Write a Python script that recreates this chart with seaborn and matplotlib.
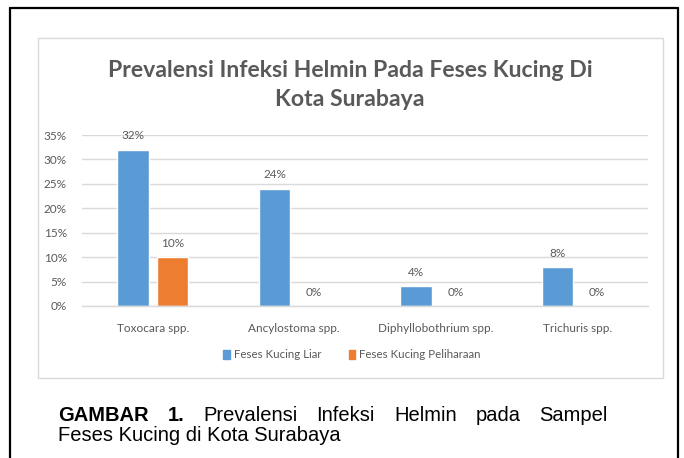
import matplotlib
matplotlib.use("Agg")
import matplotlib.pyplot as plt
from matplotlib.lines import Line2D
from matplotlib.patches import Rectangle
import seaborn as sns
import pandas as pd

# ---- data ----
categories = ["Toxocara spp.", "Ancylostoma spp.", "Diphyllobothrium spp.", "Trichuris spp."]
series_names = ["Feses Kucing Liar", "Feses Kucing Peliharaan"]
liar = [0.32, 0.24, 0.04, 0.08]
peliharaan = [0.10, 0.0, 0.0, 0.0]
y_ticks = [0.0, 0.05, 0.10, 0.15, 0.20, 0.25, 0.30, 0.35]
y_tick_labels = ["0%", "5%", "10%", "15%", "20%", "25%", "30%", "35%"]
title = "Prevalensi Infeksi Helmin Pada Feses Kucing Di\nKota Surabaya"
caption_line1_bold = ["GAMBAR", "1."]
caption_line1 = ["Prevalensi", "Infeksi", "Helmin", "pada", "Sampel"]
caption_line2 = "Feses Kucing di Kota Surabaya"

df = pd.DataFrame({
    "Parasit": categories * 2,
    "Prevalensi": liar + peliharaan,
    "Kelompok": [series_names[0]] * 4 + [series_names[1]] * 4,
})

BLUE = "#5B9BD5"
ORANGE = "#ED7D31"
GRID = "#D9D9D9"
TXT = "#595959"

sns.set_theme(style="white")
plt.rcParams["font.family"] = ["Lato", "DejaVu Sans"]

W, H = 684, 458
fig = plt.figure(figsize=(W / 100, H / 100), dpi=100)
fig.patch.set_facecolor("white")


def fx(px):
    return px / W


def fy(py):
    return 1 - py / H


ax = fig.add_axes([fx(82), fy(306), fx(648) - fx(82), fy(135) - fy(306)])
sns.barplot(data=df, x="Parasit", y="Prevalensi", hue="Kelompok",
            palette=[BLUE, ORANGE], saturation=1, width=0.56, gap=0.2,
            ax=ax, legend=False)

ax.set_ylim(0, 0.35)
ax.set_xlim(-0.5, len(categories) - 0.5)
ax.set_yticks(y_ticks)
ax.set_yticklabels(y_tick_labels)
ax.set_xlabel("")
ax.set_ylabel("")
ax.yaxis.grid(True, color=GRID, linewidth=1.0)
ax.set_axisbelow(True)
for s in ["top", "right", "left"]:
    ax.spines[s].set_visible(False)
ax.spines["bottom"].set_color(GRID)
ax.spines["bottom"].set_linewidth(1.0)
ax.tick_params(axis="y", length=0, pad=11, labelsize=8.5, labelcolor=TXT)
ax.tick_params(axis="x", length=0, pad=12, labelsize=8.5, labelcolor=TXT)
ax.set_facecolor("white")

for cont in ax.containers:
    ax.bar_label(cont, fmt=lambda v: f"{v * 100:.0f}%", padding=6,
                 fontsize=8.5, color=TXT)

handles = [Rectangle((0, 0), 1, 1, color=BLUE), Rectangle((0, 0), 1, 1, color=ORANGE)]
fig.legend(handles, series_names, loc="center", bbox_to_anchor=(fx(352), fy(355)),
           ncol=2, frameon=False, fontsize=8.3, labelcolor=TXT,
           handlelength=0.55, handleheight=0.8, handletextpad=0.35,
           columnspacing=2.4)

fig.text(fx(350), fy(85), title, ha="center", va="center", fontsize=16.6,
         fontweight="bold", color=TXT, linespacing=1.5)

# inner chart box
fig.add_artist(Rectangle((fx(38), fy(378)), fx(663) - fx(38), fy(38) - fy(378),
                         transform=fig.transFigure, fill=False,
                         edgecolor=GRID, linewidth=1.0))
# outer frame (top, left, right)
for xs, ys in [([10, 678], [8, 8]), ([10, 10], [8, 460]), ([678, 678], [8, 460])]:
    fig.add_artist(Line2D([fx(x) for x in xs], [fy(y) for y in ys],
                          transform=fig.transFigure, color="black", linewidth=1.6))

# caption, line 1 justified between x=58 and x=608
cap_fs = 14.5
cap_family = ["Liberation Sans", "DejaVu Sans"]
fig.canvas.draw()
renderer = fig.canvas.get_renderer()
words = [(w, "bold") for w in caption_line1_bold] + [(w, "normal") for w in caption_line1]
tmp = []
widths = []
for w, wt in words:
    t = fig.text(0, 0, w, fontsize=cap_fs, fontweight=wt, family=cap_family)
    widths.append(t.get_window_extent(renderer).width)
    tmp.append(t)
left, right = 58, 608
gap = (right - left - sum(widths)) / (len(words) - 1)
xpos = left
for t, wdt in zip(tmp, widths):
    t.set_position((fx(xpos), fy(421)))
    t.set_color("black")
    t.set_va("baseline")
    xpos += wdt + gap
fig.text(fx(58), fy(441), caption_line2, fontsize=cap_fs, va="baseline",
         family=cap_family, color="black")

fig.savefig("out.png", dpi=100)
